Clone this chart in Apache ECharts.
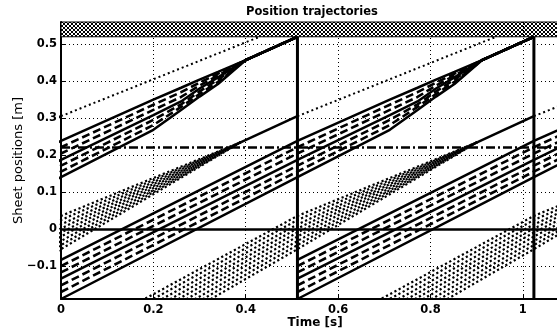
<!DOCTYPE html>
<html>
<head>
<meta charset="utf-8">
<script src="https://cdn.jsdelivr.net/npm/echarts@6/dist/echarts.min.js"></script>
<style>
  html, body { margin: 0; padding: 0; background: #fff; }
  #chart { width: 557px; height: 333px; }
</style>
</head>
<body>
<div id="chart"></div>
<script>
// axes
var xTicks = [0, 0.2, 0.4, 0.6, 0.8, 1];
var yTicks = [-0.1, 0, 0.1, 0.2, 0.3, 0.4, 0.5];
var xRange = [0, 1.1];
var yRange = [-0.19, 0.56];

// cycle boundaries, tray band at the top, sensor level
var cycleTimes = [0.512, 1.024];
var trayBand = [0.52, 0.56];
var sensorLevel = 0.216;

// main sheet: 7 edges (solid, dash, dash, solid, dash, dash, solid), time since sheet start
var sheetTimes = [0, 0.512, 0.712, 0.772, 0.812, 0.852, 0.912, 1.024];
var sheetEdges = [
  [-0.084, 0.238, 0.350, 0.382, 0.404, 0.425, 0.457, 0.520],
  [-0.101, 0.221, 0.336, 0.370, 0.396, 0.420, 0.457, 0.520],
  [-0.118, 0.204, 0.322, 0.357, 0.388, 0.415, 0.457, 0.520],
  [-0.135, 0.187, 0.308, 0.345, 0.380, 0.410, 0.457, 0.520],
  [-0.153, 0.171, 0.295, 0.337, 0.372, 0.404, 0.457, 0.520],
  [-0.171, 0.155, 0.281, 0.330, 0.365, 0.398, 0.457, 0.520],
  [-0.190, 0.140, 0.268, 0.322, 0.358, 0.392, 0.457, 0.520]
];
var sheetKinds = ['solid', 'dash', 'dash', 'solid', 'dash', 'dash', 'solid'];
var sheetStarts = [-0.512, 0, 0.512];

// second stream: dotted band that collapses into one line
var streamTimes = [0, 0.512, 0.902];
var streamEdges = [
  [-0.424, -0.055, 0.235],
  [-0.410, -0.044, 0.235],
  [-0.396, -0.033, 0.235],
  [-0.382, -0.021, 0.235],
  [-0.368, -0.010, 0.235],
  [-0.355, 0.001, 0.235],
  [-0.341, 0.012, 0.235],
  [-0.327, 0.024, 0.235],
  [-0.313, 0.035, 0.235]
];
var mergedTimes = [0.902, 1.024];
var mergedPos = [0.235, 0.305];
var returnTimes = [1.024, 1.454];
var returnPos = [0.305, 0.52];
var streamStarts = [-1.024, -0.512, 0, 0.512];

// hatch pattern for the tray band
var pat = document.createElement('canvas');
pat.width = 4; pat.height = 4;
var pc = pat.getContext('2d');
pc.fillStyle = '#fff'; pc.fillRect(0, 0, 4, 4);
pc.fillStyle = '#000';
for (var i = 0; i < 4; i++) { pc.fillRect(i, i, 1, 1); pc.fillRect(3 - i, i, 1, 1); }

var solidStyle = { color: '#000', width: 2.5, type: 'solid' };
var dashStyle = { color: '#000', width: 2.6, type: [8, 4] };
var dotStyle = { color: '#000', width: 2.2, type: [2.2, 2.6] };

function path(times, values, t0) {
  return times.map(function (t, j) { return [t0 + t, values[j]]; });
}
function line(data, style, z) {
  return { type: 'line', data: data, symbol: 'none', silent: true, animation: false,
           clip: true, lineStyle: style, z: z };
}

var series = [];

// grid, zero line, sensor line
series.push({
  type: 'line', data: [], silent: true, animation: false, z: 1,
  markLine: {
    symbol: 'none', silent: true, animation: false, label: { show: false },
    lineStyle: { color: '#000', width: 1, type: [1, 3] },
    data: xTicks.filter(function (v) { return v > 0; }).map(function (v) { return { xAxis: v }; })
      .concat(yTicks.filter(function (v) { return v !== 0; }).map(function (v) { return { yAxis: v }; }))
  }
});
series.push({
  type: 'line', data: [], silent: true, animation: false, z: 2,
  markLine: {
    symbol: 'none', silent: true, animation: false, label: { show: false },
    data: [
      { yAxis: 0, lineStyle: { color: '#000', width: 2.5, type: 'solid' } },
      { yAxis: sensorLevel, lineStyle: { color: '#000', width: 2.5, type: [9, 3, 2, 3] } }
    ]
  }
});

// dotted stream bands
streamStarts.forEach(function (t0) {
  streamEdges.forEach(function (edge) {
    series.push(line(path(streamTimes, edge, t0), dotStyle, 3));
  });
  series.push(line(path(mergedTimes, mergedPos, t0), solidStyle, 4));
  series.push(line(path(returnTimes, returnPos, t0), { color: '#000', width: 2, type: [2, 3] }, 3));
});

// main sheets: dashed first, solid on top
sheetStarts.forEach(function (t0) {
  sheetEdges.forEach(function (edge, k) {
    if (sheetKinds[k] === 'dash') series.push(line(path(sheetTimes, edge, t0), dashStyle, 4));
  });
  sheetEdges.forEach(function (edge, k) {
    if (sheetKinds[k] === 'solid') series.push(line(path(sheetTimes, edge, t0), solidStyle, 5));
  });
});

// cycle boundaries
cycleTimes.forEach(function (t) {
  series.push(line([[t, yRange[0]], [t, trayBand[0]]], { color: '#000', width: 3 }, 6));
});

// tray band
series.push({
  type: 'line', data: [], silent: true, animation: false, z: 7,
  markArea: {
    silent: true, animation: false,
    itemStyle: { color: { image: pat, repeat: 'repeat' }, borderColor: '#000', borderWidth: 1 },
    data: [[{ yAxis: trayBand[0] }, { yAxis: trayBand[1] }]]
  }
});

var font = 'DejaVu Sans';
var chart = echarts.init(document.getElementById('chart'), null, { renderer: 'canvas' });
chart.setOption({
  backgroundColor: '#fff',
  animation: false,
  title: {
    text: 'Position trajectories', left: 241, top: 1,
    textStyle: { fontFamily: font, fontSize: 11.5, fontWeight: 'bold', color: '#000' }
  },
  grid: { left: 61, right: -12, top: 22, bottom: 34, containLabel: false, outerBoundsMode: 'none' },
  xAxis: {
    type: 'value', min: xRange[0], max: xRange[1],
    name: 'Time [s]', nameLocation: 'middle', nameGap: 18, nameMoveOverlap: false,
    nameTextStyle: { fontFamily: font, fontSize: 12, fontWeight: 'bold', color: '#000' },
    axisLine: { show: true, onZero: false, lineStyle: { color: '#000', width: 2 } },
    axisTick: { show: true, inside: true, length: 4, customValues: xTicks, lineStyle: { color: '#000' } },
    axisLabel: { customValues: xTicks, margin: 5, fontFamily: font, fontSize: 11.5, fontWeight: 'bold', color: '#000' },
    splitLine: { show: false }
  },
  yAxis: {
    type: 'value', min: yRange[0], max: yRange[1],
    name: 'Sheet positions [m]', nameLocation: 'middle', nameGap: 36, nameRotate: 90, nameMoveOverlap: false,
    nameTextStyle: { fontFamily: font, fontSize: 13, color: '#000' },
    axisLine: { show: true, onZero: false, lineStyle: { color: '#000', width: 2 } },
    axisTick: { show: true, inside: true, length: 4, customValues: yTicks, lineStyle: { color: '#000' } },
    axisLabel: {
      customValues: yTicks, margin: 4, fontFamily: font, fontSize: 11.5, fontWeight: 'bold', color: '#000',
      formatter: function (v) { return v < 0 ? '\u2212' + Math.abs(v) : String(v); }
    },
    splitLine: { show: false }
  },
  series: series
});
</script>
</body>
</html>
